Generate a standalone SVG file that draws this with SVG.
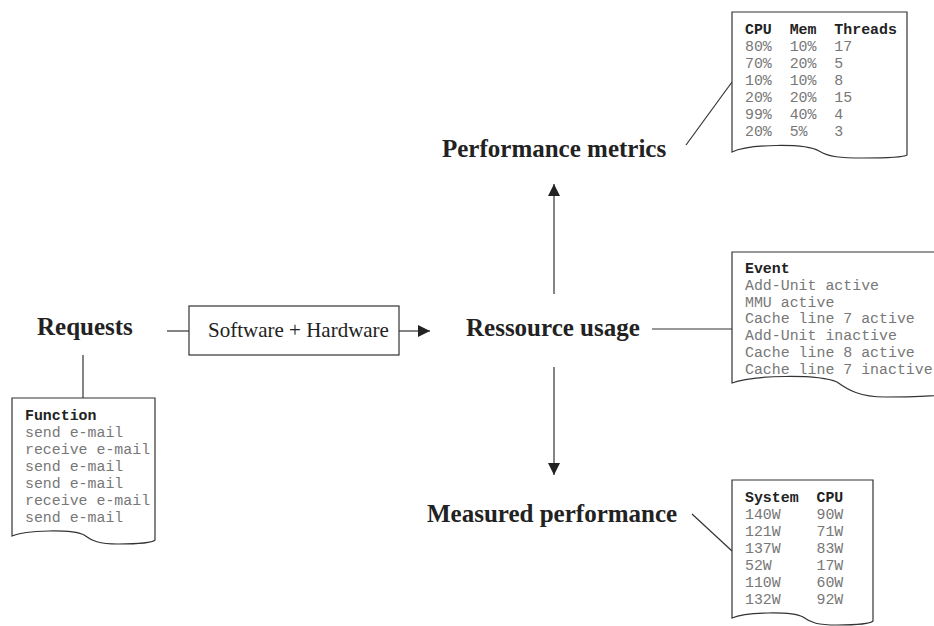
<svg xmlns="http://www.w3.org/2000/svg" width="934" height="626" viewBox="0 0 934 626">
  <defs>
    <style>
      .lbl { font-family: "Liberation Serif", "Times New Roman", serif; font-weight: bold; font-size: 25px; fill: #222; }
      .boxtxt { font-family: "Liberation Serif", "Times New Roman", serif; font-size: 21px; fill: #222; }
      .doc { fill: #fff; stroke: #333; stroke-width: 1.2; }
      .mono { font-family: "Liberation Mono", "Courier New", monospace; font-size: 14.9px; fill: #777; white-space: pre; }
      .mono .hd { font-weight: bold; fill: #222; }
      .ln { fill: none; stroke: #333; stroke-width: 1.2; }
    </style>
    <marker id="arrow" markerUnits="userSpaceOnUse" markerWidth="12" markerHeight="12" viewBox="0 0 10 10" refX="10" refY="5" orient="auto">
      <path d="M0,0 L10,5 L0,10 Z" fill="#222"/>
    </marker>
  </defs>

  <rect width="934" height="626" fill="#fff"/>

  <!-- connectors -->
  <g id="connectors">
    <line class="ln" x1="167" y1="331" x2="189" y2="331"/>
    <line class="ln" x1="399" y1="331" x2="430" y2="331" marker-end="url(#arrow)"/>
    <line class="ln" x1="652" y1="329" x2="732" y2="329"/>
    <line class="ln" x1="554" y1="294" x2="554" y2="184" marker-end="url(#arrow)"/>
    <line class="ln" x1="554" y1="367" x2="554" y2="475" marker-end="url(#arrow)"/>
    <line class="ln" x1="83" y1="355" x2="83" y2="398"/>
    <line class="ln" x1="686" y1="145" x2="732" y2="82"/>
    <line class="ln" x1="692" y1="514" x2="732" y2="551"/>
  </g>

  <!-- labels -->
  <g id="requests"><text class="lbl" x="37" y="335">Requests</text></g>
  <g id="system">
    <rect x="189" y="306" width="210" height="49" fill="#fff" stroke="#333" stroke-width="1.2"/>
    <text class="boxtxt" x="208" y="337">Software + Hardware</text>
  </g>
  <g id="resource-usage"><text class="lbl" x="466" y="336">Ressource usage</text></g>
  <g id="performance-metrics"><text class="lbl" x="442" y="157">Performance metrics</text></g>
  <g id="measured-performance"><text class="lbl" x="427" y="522">Measured performance</text></g>

  <!-- document: metrics table -->
  <g id="doc-metrics">
    <path class="doc" d="M732,152 C749,144 805,143 819,151 C829,157 840,158 863,158 C889,158 904,157 907,155 V12 H732 Z"/>
    <text class="mono">
      <tspan class="hd" x="745" y="34">CPU  Mem  Threads</tspan>
      <tspan x="745" y="51">80%  10%  17</tspan>
      <tspan x="745" y="68">70%  20%  5</tspan>
      <tspan x="745" y="85">10%  10%  8</tspan>
      <tspan x="745" y="102">20%  20%  15</tspan>
      <tspan x="745" y="119">99%  40%  4</tspan>
      <tspan x="745" y="136">20%  5%   3</tspan>
    </text>
  </g>

  <!-- document: event trace -->
  <g id="doc-events">
    <path class="doc" d="M732,383 C753,375 818,374 837,382 C848,390 860,397 885,397 C915,397 938,396 944,394 V252 H732 Z"/>
    <text class="mono">
      <tspan class="hd" x="745" y="273">Event</tspan>
      <tspan x="745" y="289.8">Add-Unit active</tspan>
      <tspan x="745" y="306.6">MMU active</tspan>
      <tspan x="745" y="323.4">Cache line 7 active</tspan>
      <tspan x="745" y="340.2">Add-Unit inactive</tspan>
      <tspan x="745" y="357">Cache line 8 active</tspan>
      <tspan x="745" y="373.8">Cache line 7 inactive</tspan>
    </text>
  </g>

  <!-- document: function requests -->
  <g id="doc-functions">
    <path class="doc" d="M12,536 C26,530 72,529 84,535 C92,541 99,544 118,544 C140,544 152,543 155,540 V398 H12 Z"/>
    <text class="mono">
      <tspan class="hd" x="25" y="420">Function</tspan>
      <tspan x="25" y="437">send e-mail</tspan>
      <tspan x="25" y="454">receive e-mail</tspan>
      <tspan x="25" y="471">send e-mail</tspan>
      <tspan x="25" y="488">send e-mail</tspan>
      <tspan x="25" y="505">receive e-mail</tspan>
      <tspan x="25" y="522">send e-mail</tspan>
    </text>
  </g>

  <!-- document: power readings -->
  <g id="doc-power">
    <path class="doc" d="M732,618 C746,612 791,611 803,617 C811,623 818,625 837,625 C858,625 870,624 873,621 V480 H732 Z"/>
    <text class="mono">
      <tspan class="hd" x="745" y="502">System  CPU</tspan>
      <tspan x="745" y="519">140W    90W</tspan>
      <tspan x="745" y="536">121W    71W</tspan>
      <tspan x="745" y="553">137W    83W</tspan>
      <tspan x="745" y="570">52W     17W</tspan>
      <tspan x="745" y="587">110W    60W</tspan>
      <tspan x="745" y="604">132W    92W</tspan>
    </text>
  </g>
</svg>
